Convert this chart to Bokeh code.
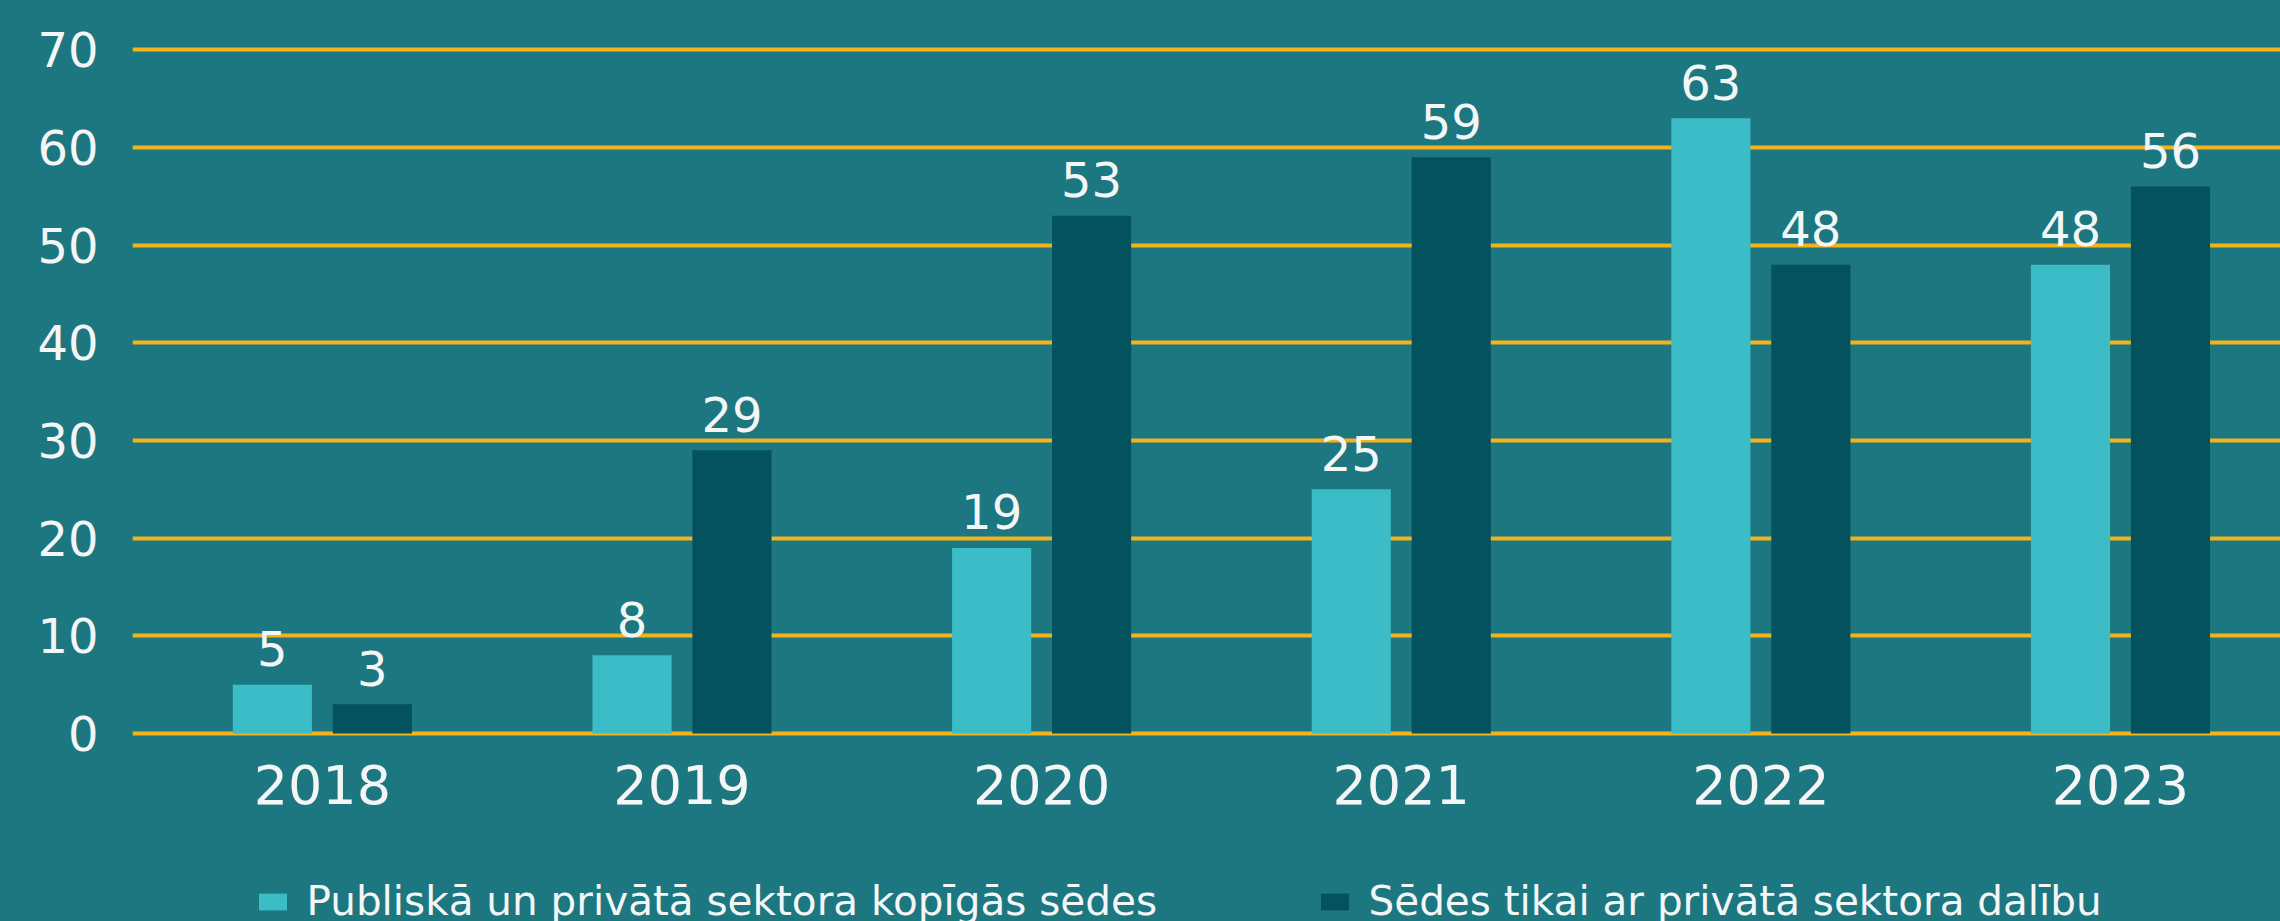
from bokeh.plotting import figure
from bokeh.models import ColumnDataSource, Range1d, FixedTicker, Legend, LegendItem
from bokeh.transform import dodge
from bokeh.core.properties import value
from bokeh.embed import file_html
from bokeh.resources import INLINE

years = ["2018", "2019", "2020", "2021", "2022", "2023"]
joint = [5, 8, 19, 25, 63, 48]          # Publiskā un privātā sektora kopīgās sēdes
private_only = [3, 29, 53, 59, 48, 56]  # Sēdes tikai ar privātā sektora dalību
y_ticks = [0, 10, 20, 30, 40, 50, 60, 70]
series_names = ["Publiskā un privātā sektora kopīgās sēdes",
                "Sēdes tikai ar privātā sektora dalību"]

BG = "#1c7781"
LIGHT = "#3cbcc6"
DARK = "#03525e"
GRID = "#f5b31b"
TXT = "#f4f6f6"
FONT = "DejaVu Sans"

idx = list(range(len(years)))
src = ColumnDataSource(dict(idx=idx, joint=joint, priv=private_only,
                            joint_lbl=[str(v) for v in joint],
                            priv_lbl=[str(v) for v in private_only]))

p = figure(width=2280, height=921, output_backend="svg", toolbar_location=None,
           x_range=Range1d(-0.528, 5.445), y_range=Range1d(-19.25, 73.51),
           min_border_left=132, min_border_right=0, min_border_top=15,
           min_border_bottom=0)
p.background_fill_color = BG
p.border_fill_color = BG
p.outline_line_color = None

bw = 0.22
off = 0.139
r1 = p.vbar(x=dodge("idx", -off, range=p.x_range), top="joint", bottom=0, width=bw,
            source=src, fill_color=LIGHT, line_color=None)
r2 = p.vbar(x=dodge("idx", off, range=p.x_range), top="priv", bottom=0, width=bw,
            source=src, fill_color=DARK, line_color=None)

p.text(x=dodge("idx", -off, range=p.x_range), y="joint", text="joint_lbl", source=src,
       text_align="center", text_baseline="alphabetic", y_offset=-36,
       text_font=value(FONT), text_font_size="48px", text_color=TXT)
p.text(x=dodge("idx", off, range=p.x_range), y="priv", text="priv_lbl", source=src,
       text_align="center", text_baseline="alphabetic", y_offset=-36,
       text_font=value(FONT), text_font_size="48px", text_color=TXT)

# grid
p.xgrid.grid_line_color = None
p.ygrid.ticker = FixedTicker(ticks=y_ticks)
p.ygrid.grid_line_color = GRID
p.ygrid.grid_line_width = 4

# axes
p.yaxis.ticker = FixedTicker(ticks=y_ticks)
p.xaxis.ticker = FixedTicker(ticks=idx)
p.xaxis.major_label_overrides = {i: y for i, y in zip(idx, years)}
p.xaxis.fixed_location = 0
for ax in (p.xaxis, p.yaxis):
    ax.axis_line_color = None
    ax.major_tick_line_color = None
    ax.minor_tick_line_color = None
    ax.major_label_text_font = FONT
    ax.major_label_text_color = TXT
p.yaxis.major_label_text_font_size = "48px"
p.yaxis.major_label_standoff = 28
p.xaxis.major_label_text_font_size = "54px"
p.xaxis.major_label_standoff = 26

def make_legend(item, x):
    return Legend(items=[item], location=(x, -4), orientation="horizontal",
                  glyph_width=35, glyph_height=21, label_height=21,
                  label_standoff=17, padding=0, margin=0, spacing=0,
                  border_line_color=None, background_fill_alpha=0,
                  label_text_font=FONT, label_text_font_size="40.5px",
                  label_text_color=TXT)

p.add_layout(make_legend(LegendItem(label=series_names[0], renderers=[r1]), 122.5))
p.add_layout(make_legend(LegendItem(label=series_names[1], renderers=[r2]), 1184.5))

html = file_html(p, INLINE)
html = html.replace("<head>", "<head><style>html, body { background: %s; }</style>" % BG, 1)
open("out.html", "w").write(html)
